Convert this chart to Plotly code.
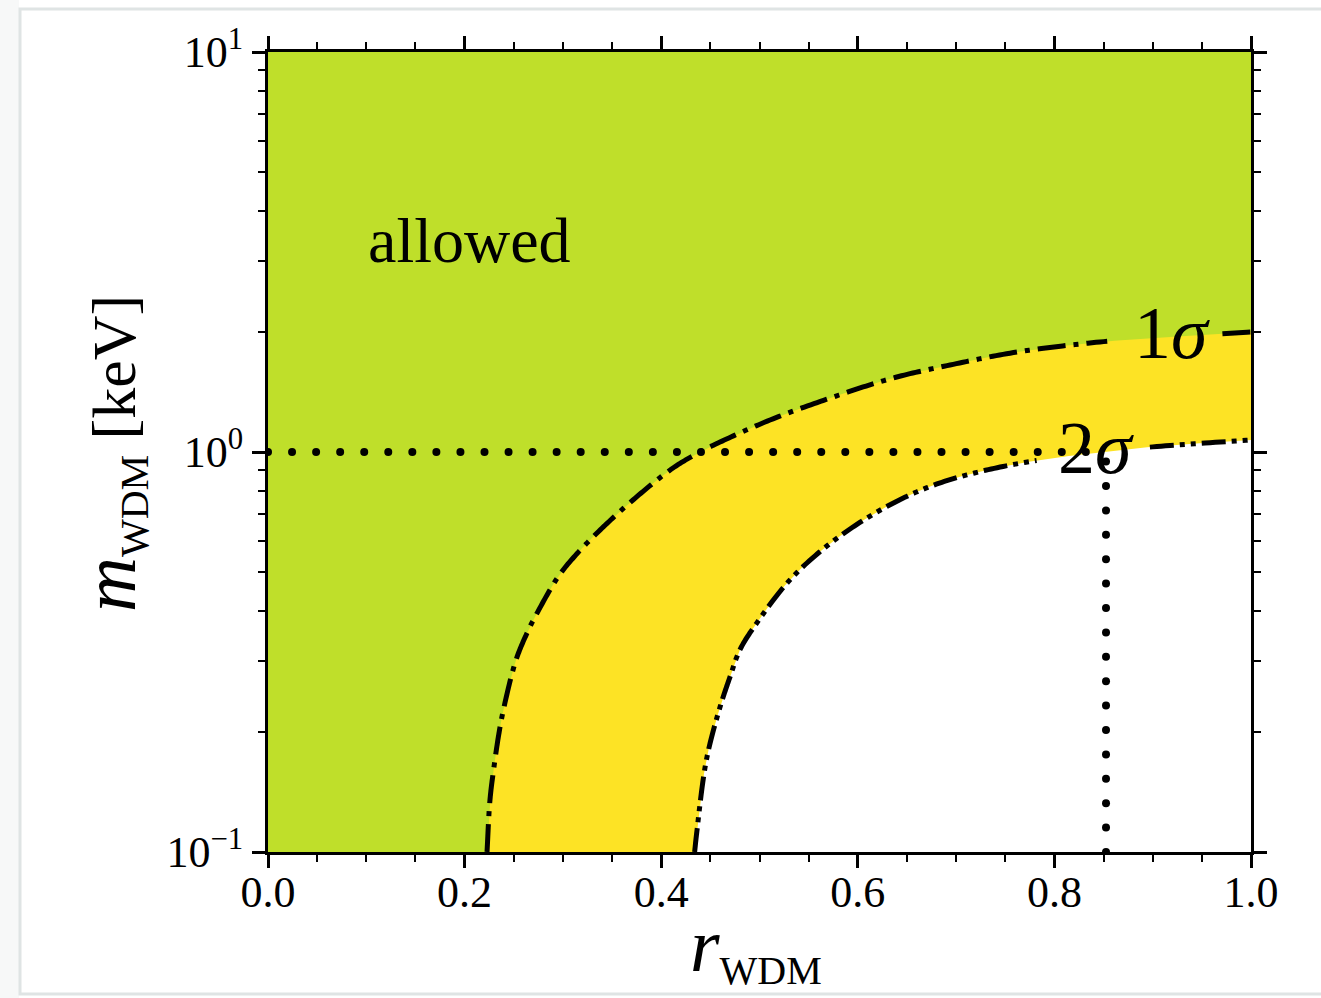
import numpy as np
import plotly.graph_objects as go

# ---- data: confidence contours in the (r_WDM, m_WDM) plane ----
r_1sigma = [0.2228, 0.2258, 0.2299, 0.2350, 0.2401, 0.2523, 0.2635, 0.2716, 0.2950,
            0.3113, 0.3347, 0.3713, 0.4120, 0.4395, 0.4578, 0.5107, 0.5748, 0.6358,
            0.6938, 0.7620, 0.8464, 0.9176, 1.0]
m_1sigma = [0.100, 0.1349, 0.1632, 0.1984, 0.2304, 0.302, 0.3527, 0.3868, 0.487,
            0.5464, 0.6273, 0.7586, 0.912, 1.000, 1.053, 1.202, 1.372, 1.531,
            1.650, 1.778, 1.884, 1.939, 1.995]

r_2sigma = [0.434, 0.436, 0.446, 0.460, 0.470, 0.480, 0.497, 0.531, 0.572, 0.623,
            0.673, 0.724, 0.785, 0.850, 0.900, 1.0]
m_2sigma = [0.100, 0.111, 0.170, 0.231, 0.274, 0.320, 0.373, 0.479, 0.591, 0.716,
            0.819, 0.893, 0.955, 1.000, 1.030, 1.072]

# reference point marked by the dotted guide lines
r_ref = 0.8525
m_ref = 1.0

x_ticks = [0.0, 0.2, 0.4, 0.6, 0.8, 1.0]
x_ticktext = ["0.0", "0.2", "0.4", "0.6", "0.8", "1.0"]
y_ticks = [0.1, 1.0, 10.0]
y_ticktext = ["10<sup>\u22121</sup>", "10<sup>0</sup>", "10<sup>1</sup>"]

GREEN = "#bfdf2a"
YELLOW = "#fde325"
SERIF = "Liberation Serif, Times New Roman, serif"


def smooth_curve(r, m, n=20):
    """Centripetal Catmull-Rom spline through the points, in screen-like (r, log10 m) space."""
    px = np.asarray(r, dtype=float) * 983.0
    py = np.log10(np.asarray(m, dtype=float)) * 400.0
    P = np.column_stack([px, py])
    P = np.vstack([2 * P[0] - P[1], P, 2 * P[-1] - P[-2]])
    out = []
    for i in range(1, len(P) - 2):
        p0, p1, p2, p3 = P[i - 1], P[i], P[i + 1], P[i + 2]
        t0 = 0.0
        t1 = t0 + np.linalg.norm(p1 - p0) ** 0.5
        t2 = t1 + np.linalg.norm(p2 - p1) ** 0.5
        t3 = t2 + np.linalg.norm(p3 - p2) ** 0.5
        t = np.linspace(t1, t2, n, endpoint=False)[:, None]
        A1 = (t1 - t) / (t1 - t0) * p0 + (t - t0) / (t1 - t0) * p1
        A2 = (t2 - t) / (t2 - t1) * p1 + (t - t1) / (t2 - t1) * p2
        A3 = (t3 - t) / (t3 - t2) * p2 + (t - t2) / (t3 - t2) * p3
        B1 = (t2 - t) / (t2 - t0) * A1 + (t - t0) / (t2 - t0) * A2
        B2 = (t3 - t) / (t3 - t1) * A2 + (t - t1) / (t3 - t1) * A3
        C = (t2 - t) / (t2 - t1) * B1 + (t - t1) / (t2 - t1) * B2
        out.append(C)
    out.append(P[-2][None, :])
    S = np.vstack(out)
    return S[:, 0] / 983.0, 10 ** (S[:, 1] / 400.0)


def with_gap(x, y, lo, hi):
    y = np.array(y, dtype=float)
    y[(x > lo) & (x < hi)] = np.nan
    return x, y


r1, m1 = smooth_curve(r_1sigma, m_1sigma)
r2, m2 = smooth_curve(r_2sigma, m_2sigma)

fig = go.Figure()

# yellow band: everything below the 1-sigma contour
fig.add_trace(go.Scatter(
    x=np.concatenate([r1, [1.0, r1[0]]]),
    y=np.concatenate([m1, [0.1, 0.1]]),
    fill="toself", fillcolor=YELLOW, mode="lines", line=dict(width=0),
    hoverinfo="skip", showlegend=False))
# excluded region: below the 2-sigma contour
fig.add_trace(go.Scatter(
    x=np.concatenate([r2, [1.0, r2[0]]]),
    y=np.concatenate([m2, [0.1, 0.1]]),
    fill="toself", fillcolor="white", mode="lines", line=dict(width=0),
    hoverinfo="skip", showlegend=False))

# contour lines, broken where their labels sit
lx1, ly1 = with_gap(r1, m1, 0.857, 0.970)
fig.add_trace(go.Scatter(x=lx1, y=ly1, mode="lines", connectgaps=False,
                         line=dict(color="black", width=5, dash="28px,8px,5px,8px",
                                   simplify=False),
                         hoverinfo="skip", showlegend=False))
lx2, ly2 = with_gap(r2, m2, 0.785, 0.897)
fig.add_trace(go.Scatter(x=lx2, y=ly2, mode="lines", connectgaps=False,
                         line=dict(color="black", width=5,
                                   dash="24px,6px,5px,6px,5px,6px", simplify=False),
                         hoverinfo="skip", showlegend=False))

# dotted guide lines through the reference point
h_r = np.arange(0.0, r_ref + 1e-9, 0.02447)
fig.add_trace(go.Scatter(x=h_r, y=np.full_like(h_r, m_ref), mode="markers",
                         marker=dict(color="black", size=8, symbol="circle"),
                         hoverinfo="skip", showlegend=False))
v_logm = np.arange(-1.0, np.log10(m_ref) + 1e-9, 0.061)
fig.add_trace(go.Scatter(x=np.full_like(v_logm, r_ref), y=10 ** v_logm, mode="markers",
                         marker=dict(color="black", size=8, symbol="circle"),
                         hoverinfo="skip", showlegend=False))


def X(px):
    return (px - 268) / 983.0


def Y(py):
    return (852 - py) / 800.0


annotations = [
    dict(text="allowed", x=X(469), y=Y(240), font=dict(size=64)),
    dict(text="1<i>\u03c3</i>", x=X(1172), y=Y(333), font=dict(size=74)),
    dict(text="2<i>\u03c3</i>", x=X(1096), y=Y(448), font=dict(size=74)),
    dict(text='<span style="font-size:76px"><i>r</i></span>'
              '<sub><span style="font-size:40px">WDM</span></sub>',
         x=X(756), y=Y(948), font=dict(size=62)),
    dict(text='<span style="font-size:76px"><i>m</i></span>'
              '<sub><span style="font-size:40px">WDM</span></sub> [keV]',
         x=X(112), y=Y(454), font=dict(size=62), textangle=-90),
]
for a in annotations:
    a.update(xref="paper", yref="paper", showarrow=False,
             xanchor="center", yanchor="middle")
    a["font"].update(family=SERIF, color="black")

axis_common = dict(
    showline=True, linecolor="black", linewidth=3, mirror="allticks",
    ticks="outside", ticklen=13, tickwidth=2.5, tickcolor="black",
    showgrid=False, zeroline=False,
    tickfont=dict(family=SERIF, size=44, color="black"),
)

fig.update_layout(
    width=1321, height=998, autosize=False,
    margin=dict(l=268, r=70, t=52, b=146),
    paper_bgcolor="white", plot_bgcolor=GREEN,
    annotations=annotations,
    xaxis=dict(range=[0, 1], tickmode="array", tickvals=x_ticks, ticktext=x_ticktext,
               ticklabelstandoff=-14,
               minor=dict(dtick=0.05, ticks="outside", ticklen=7, tickwidth=2,
                          tickcolor="black", showgrid=False),
               **axis_common),
    yaxis=dict(type="log", range=[-1, 1], tickmode="array", tickvals=y_ticks,
               ticktext=y_ticktext,
               minor=dict(tickmode="array",
                          tickvals=[k * 10.0 ** e for e in (-1, 0) for k in range(2, 10)],
                          ticks="outside", ticklen=7, tickwidth=2, tickcolor="black",
                          showgrid=False),
               **axis_common),
    shapes=[
        dict(type="rect", xref="paper", yref="paper", layer="below",
             x0=X(-20), x1=X(19), y0=Y(1010), y1=Y(-10),
             fillcolor="#f7f8f8", line=dict(width=0)),
        dict(type="rect", xref="paper", yref="paper", layer="below",
             x0=X(20), x1=X(1340), y0=Y(994), y1=Y(9),
             fillcolor="rgba(0,0,0,0)", line=dict(color="#dfe4e4", width=3)),
    ],
)

fig.write_html("out.html")
